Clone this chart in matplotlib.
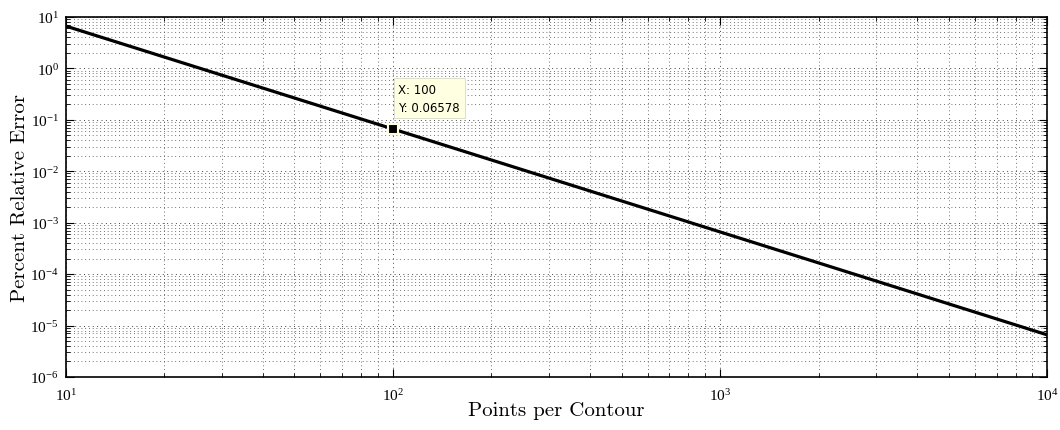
import numpy as np
import matplotlib
matplotlib.use("Agg")
import matplotlib.pyplot as plt

# error falls off as 1/n^2
points = np.array([10, 20, 50, 100, 200, 500, 1000, 2000, 5000, 10000])
rel_error = np.array([6.578, 1.6445, 0.26312, 0.06578, 0.016445,
                      0.0026312, 0.0006578, 0.00016445, 2.6312e-05, 6.578e-06])
tip_x = 100
tip_y = 0.06578

plt.rcParams['font.family'] = ['Liberation Serif', 'DejaVu Serif']
plt.rcParams['mathtext.fontset'] = 'custom'
plt.rcParams['mathtext.rm'] = 'Liberation Serif'
plt.rcParams['axes.formatter.use_mathtext'] = True

fig = plt.figure(figsize=(10.6, 4.31), dpi=100)
ax = fig.add_axes([0.062, 0.123, 0.926, 0.836])

ax.loglog(points, rel_error, color='black', lw=2.3)
ax.plot([tip_x], [tip_y], marker='s', ms=7, color='black',
        mec='#ffffe0', mew=1.5, zorder=5)

ax.annotate("X: 100\nY: 0.06578", xy=(tip_x, tip_y), xytext=(4, 11),
            textcoords='offset points', fontsize=8.5, family='DejaVu Sans',
            va='bottom', ha='left', linespacing=1.45,
            bbox=dict(boxstyle='square,pad=0.4', fc='#ffffe1', ec='#d8d8c8', lw=0.6))

ax.set_xlim(10, 1e4)
ax.set_ylim(1e-6, 1e1)
dots = (0, (1, 3.5))
ax.grid(True, which='major', ls=dots, color='#444444', lw=0.7)
ax.grid(True, which='minor', ls=dots, color='#444444', lw=0.6)
ax.tick_params(which='both', direction='in', top=True, right=True, labelsize=11)
ax.tick_params(which='major', length=6)
ax.tick_params(which='minor', length=3)
ax.tick_params(axis='x', pad=7)
ax.tick_params(axis='y', pad=5)
for s in ax.spines.values():
    s.set_linewidth(1.2)
ax.xaxis.get_offset_text().set_visible(False)
ax.yaxis.get_offset_text().set_visible(False)

ax.set_xlabel('Points per Contour', family='cmr10', fontsize=15, labelpad=-1)
ax.set_ylabel('Percent Relative Error', family='cmr10', fontsize=15, labelpad=1)

fig.savefig('out.png', dpi=100)
